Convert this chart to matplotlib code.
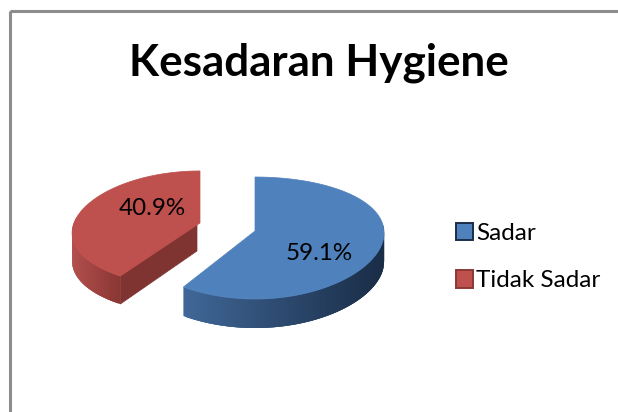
#3D風の分割円グラフ (Kesadaran Hygiene)
import numpy as np
import matplotlib
matplotlib.use('Agg')
import matplotlib.pyplot as plt
from matplotlib.patches import Patch, Polygon, Rectangle
from matplotlib.colors import to_rgb

title = 'Kesadaran Hygiene'
labels = ['Sadar', 'Tidak Sadar']
values = [59.1, 40.9]

plt.rcParams['font.family'] = ['Lato', 'DejaVu Sans']

# 各スライスの見た目 (中心, 半径, 遠近, 側面の高さ, 色)
styles = [
    dict(cx=255, cy=231, b=129, a=60.2, kx=0.03, ky=0.115, wall=29,
         top='#4F81BD', wall_l='#41699A', wall_r='#1A2D47', label=(319, 254)),
    dict(cx=200, cy=223, b=126, a=57.5, kx=0.172, ky=0.105, wall=28,
         top='#BE504D', wall_l='#B4504D', wall_r='#8C3836', label=(152, 208)),
]
inner_red = '#7F3431'


def project(th, s):
    x = s['cx'] + s['b'] * np.sin(th) / (1 + s['kx'] * np.cos(th))
    y = s['cy'] - s['a'] * np.cos(th) / (1 + s['ky'] * np.cos(th))
    return x, y


fig = plt.figure(figsize=(6.18, 4.12), dpi=100)
ax = fig.add_axes([0, 0, 1, 1])
ax.set_xlim(0, 618)
ax.set_ylim(412, 0)
ax.axis('off')

# 枠線
ax.add_patch(Rectangle((9.5, 10.5), 700, 500, fill=False, ec='#8C8C8C', lw=2.2))

start = 0.0
total = sum(values)
for v, s in zip(values, styles):
    end = start + 2 * np.pi * v / total
    th = np.linspace(start, end, 240)
    x, y = project(th, s)
    # 手前側だけ側面を描く
    front = np.cos(th) < 0.12
    fx, fy = x[front], y[front]
    c0, c1 = np.array(to_rgb(s['wall_l'])), np.array(to_rgb(s['wall_r']))
    xmin, xmax = fx.min(), fx.max()
    # 隙間が出ないように先の点まで重ねる
    for i in range(len(fx) - 4, -1, -1):
        t = (fx[i] - xmin) / (xmax - xmin)
        col = c0 + (c1 - c0) * t
        ax.add_patch(Polygon([(fx[i], fy[i]), (fx[i + 3], fy[i + 3]),
                              (fx[i + 3], fy[i + 3] + s['wall']), (fx[i], fy[i] + s['wall'])],
                             fc=col, ec='none', zorder=2))
    # 赤スライスの切断面
    if s['top'] == '#BE504D':
        ax.add_patch(Polygon([(s['cx'] - 3, s['cy']), (x[0], y[0]), (x[0], y[0] + s['wall']),
                              (s['cx'] - 3, s['cy'] + s['wall'])],
                             fc=inner_red, ec=inner_red, lw=0.5, zorder=3))
    ax.add_patch(Polygon(np.r_[[(s['cx'], s['cy'])], np.c_[x, y]], fc=s['top'], ec=s['top'],
                         lw=0.5, zorder=4))
    ax.text(s['label'][0], s['label'][1], '%.1f%%' % v, fontsize=17.4, color='black',
            ha='center', va='center', zorder=5)
    start = end

ax.text(319, 63, title, fontsize=31.7, fontweight='bold', color='black', ha='center', va='center')

handles = [Patch(fc=s['top'], ec=s['wall_r'], lw=1.4) for s in styles]
ax.legend(handles, labels, loc='center left', bbox_to_anchor=(455.5 / 618, 1 - 257 / 412),
          frameon=False, fontsize=17.5, handlelength=0.74, handleheight=0.74,
          handletextpad=0.12, labelspacing=1.08, borderpad=0, borderaxespad=0)

fig.savefig('out.png', dpi=100)
